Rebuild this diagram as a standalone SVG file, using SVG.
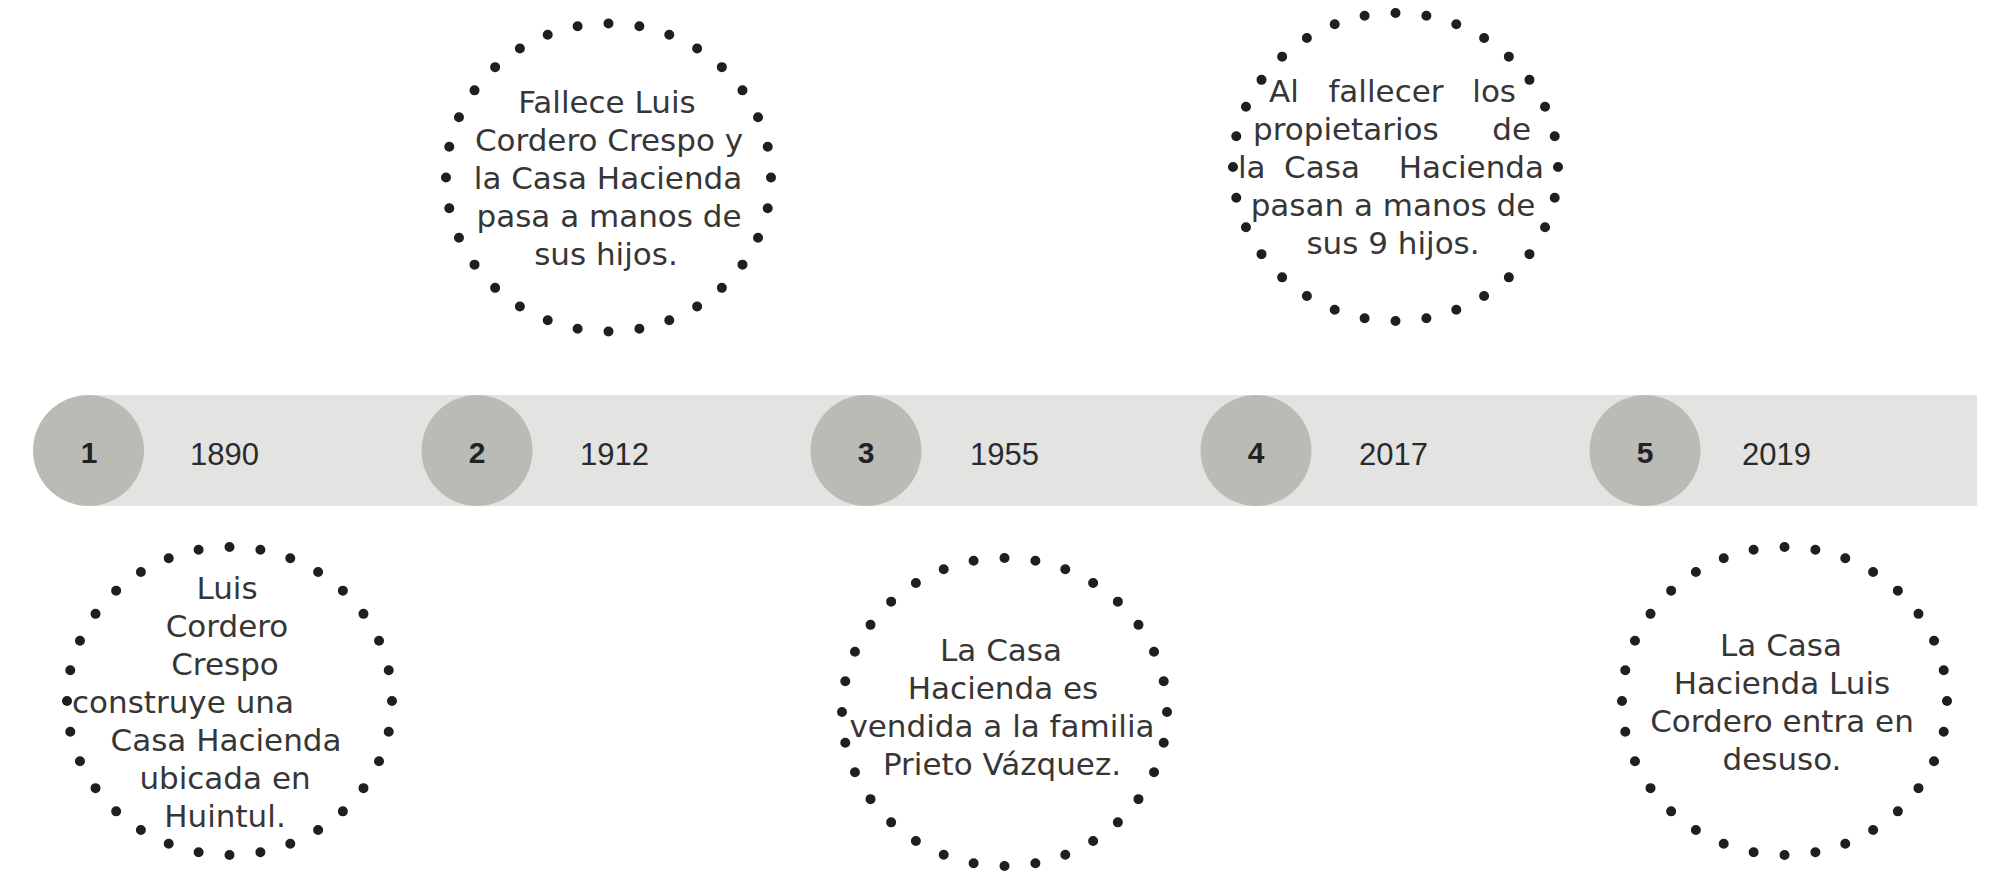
<svg xmlns="http://www.w3.org/2000/svg" width="1996" height="874" viewBox="0 0 1996 874">
<style>
.dots{fill:none;stroke:#1f1f1f;stroke-width:10;stroke-linecap:round;stroke-dasharray:0 1}
.t{font-family:"DejaVu Sans",sans-serif;font-size:31px;fill:#363636;text-anchor:middle}
.s{text-anchor:start}
.e{text-anchor:end}
.yr{font-family:"Liberation Sans",Arial,sans-serif;font-size:31px;fill:#2a2a2a}
.num{font-family:"Liberation Sans",Arial,sans-serif;font-size:30px;font-weight:bold;fill:#222;text-anchor:middle}
.mk{fill:#bbbbb5}
</style>
<rect x="88" y="395" width="1889" height="111" fill="#e3e3e2"/>
<g id="step1">
<circle class="mk" cx="88.5" cy="450.5" r="55.5"/>
<text class="num" x="89" y="463">1</text>
<text class="yr" x="190" y="465">1890</text>
</g>
<g id="step2">
<circle class="mk" cx="477" cy="450.5" r="55.5"/>
<text class="num" x="477" y="463">2</text>
<text class="yr" x="580" y="465">1912</text>
</g>
<g id="step3">
<circle class="mk" cx="866" cy="450.5" r="55.5"/>
<text class="num" x="866" y="463">3</text>
<text class="yr" x="970" y="465">1955</text>
</g>
<g id="step4">
<circle class="mk" cx="1256" cy="450.5" r="55.5"/>
<text class="num" x="1256" y="463">4</text>
<text class="yr" x="1359" y="465">2017</text>
</g>
<g id="step5">
<circle class="mk" cx="1645" cy="450.5" r="55.5"/>
<text class="num" x="1645" y="463">5</text>
<text class="yr" x="1742" y="465">2019</text>
</g>
<g id="event1890">
<path class="dots" pathLength="32" d="M229.5,547 A162.5,154 0 0 1 229.5,855 A162.5,154 0 0 1 229.5,547"/>
<text class="t" x="227" y="599">Luis</text>
<text class="t" x="227" y="637">Cordero</text>
<text class="t" x="225" y="675">Crespo</text>
<text class="t s" x="72" y="713">construye una</text>
<text class="t" x="226" y="751">Casa Hacienda</text>
<text class="t" x="225" y="789">ubicada en</text>
<text class="t" x="225" y="827">Huintul.</text>
</g>
<g id="event1912">
<path class="dots" pathLength="32" d="M608.5,23.5 A162.5,154 0 0 1 608.5,331.5 A162.5,154 0 0 1 608.5,23.5"/>
<text class="t" x="607" y="113">Fallece Luis</text>
<text class="t" x="609" y="151">Cordero Crespo y</text>
<text class="t" x="608" y="189">la Casa Hacienda</text>
<text class="t" x="609" y="227">pasa a manos de</text>
<text class="t" x="606" y="265">sus hijos.</text>
</g>
<g id="event1955">
<path class="dots" pathLength="32" d="M1004.5,558 A162.5,154 0 0 1 1004.5,866 A162.5,154 0 0 1 1004.5,558"/>
<text class="t" x="1001" y="661">La Casa</text>
<text class="t" x="1003" y="699">Hacienda es</text>
<text class="t" x="1002" y="737">vendida a la familia</text>
<text class="t" x="1002" y="775">Prieto Vázquez.</text>
</g>
<g id="event2017">
<path class="dots" pathLength="32" d="M1395.5,13 A162.5,154 0 0 1 1395.5,321 A162.5,154 0 0 1 1395.5,13"/>
<text class="t s" x="1269" y="102">Al</text>
<text class="t" x="1386" y="102">fallecer</text>
<text class="t e" x="1516" y="102">los</text>
<text class="t s" x="1253" y="140">propietarios</text>
<text class="t e" x="1531" y="140">de</text>
<text class="t s" x="1238" y="178">la</text>
<text class="t" x="1322" y="178">Casa</text>
<text class="t e" x="1544" y="178">Hacienda</text>
<text class="t" x="1393" y="216">pasan a manos de</text>
<text class="t" x="1393" y="254">sus 9 hijos.</text>
</g>
<g id="event2019">
<path class="dots" pathLength="32" d="M1784.5,547 A162.5,154 0 0 1 1784.5,855 A162.5,154 0 0 1 1784.5,547"/>
<text class="t" x="1781" y="656">La Casa</text>
<text class="t" x="1782" y="694">Hacienda Luis</text>
<text class="t" x="1782" y="732">Cordero entra en</text>
<text class="t" x="1782" y="770">desuso.</text>
</g>
<g id="connectors"></g>
</svg>
